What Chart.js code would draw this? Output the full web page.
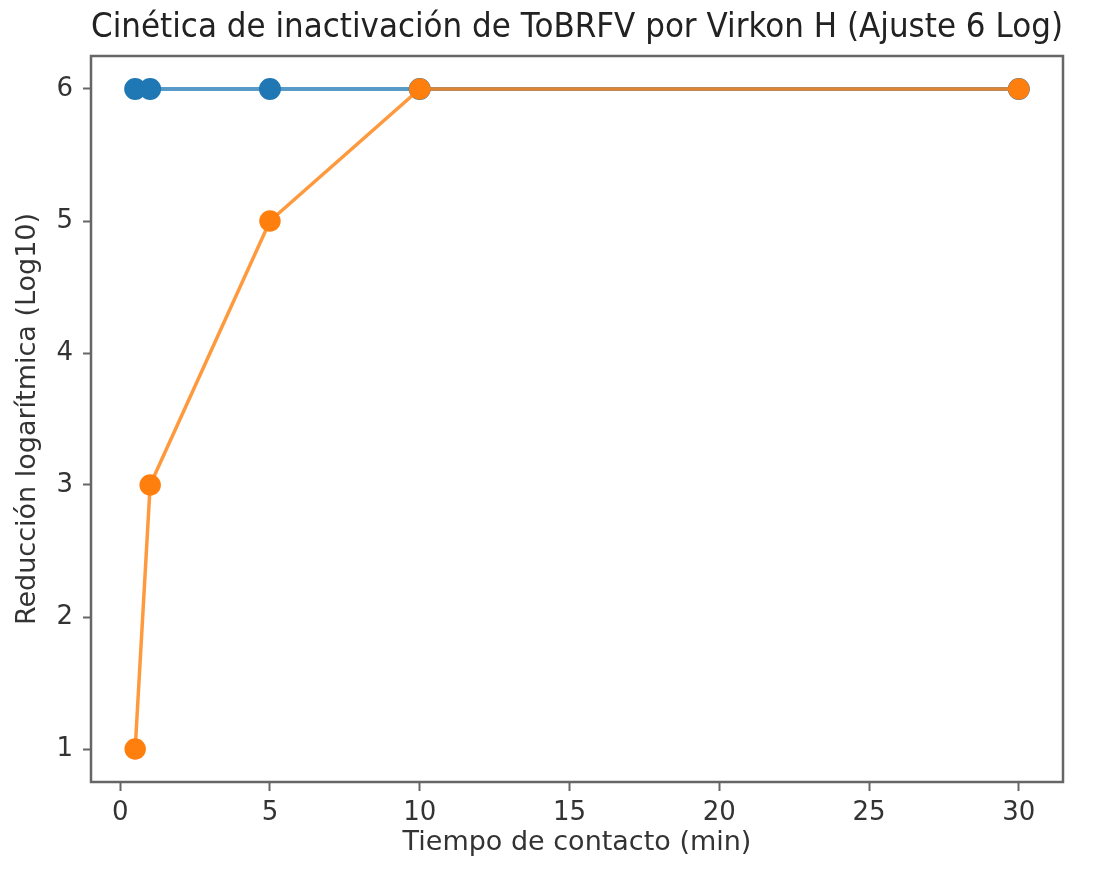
<!DOCTYPE html>
<html>
<head>
<meta charset="utf-8">
<script src="https://cdn.jsdelivr.net/npm/chart.js@4"></script>
<style>
    body { margin: 0; background: #fff; }
</style>
</head>
<body>
<canvas id="myChart" width="1093" height="871"></canvas>
<script>
// datos
const tiempos = [0.5, 1, 5, 10, 30];
const serieAzul = [6, 6, 6, 6, 6];
const serieNaranja = [1, 3, 5, 6, 6];
const xTicks = [0, 5, 10, 15, 20, 25, 30];
const yTicks = [1, 2, 3, 4, 5, 6];

const toPoints = (ys) => tiempos.map((t, i) => ({ x: t, y: ys[i] }));

// marco alrededor del area del grafico
const frame = {
    id: 'frame',
    afterDatasetsDraw(chart) {
        const a = chart.chartArea;
        const c = chart.ctx;
        c.save();
        c.strokeStyle = '#666';
        c.lineWidth = 2.5;
        c.strokeRect(a.left, a.top, a.right - a.left, a.bottom - a.top);
        c.restore();
    }
};

const font = 'DejaVu Sans';

const ctx = document.getElementById('myChart').getContext('2d');
const myChart = new Chart(ctx, {
    type: 'scatter',
    data: {
        datasets: [{
                label: 'Serie 1',
                data: toPoints(serieAzul),
                showLine: true,
                borderColor: 'rgba(31, 119, 180, 0.75)',
                backgroundColor: '#1f77b4',
                pointBorderColor: '#1f77b4',
                borderWidth: 4,
                pointRadius: 9,
                pointHoverRadius: 9,
                order: 2
            },
            {
                label: 'Serie 2',
                data: toPoints(serieNaranja),
                showLine: true,
                borderColor: 'rgba(255, 127, 14, 0.8)',
                backgroundColor: '#ff7f0e',
                pointBorderColor: '#ff7f0e',
                borderWidth: 3.5,
                pointRadius: 9,
                pointHoverRadius: 9,
                order: 1
            }
        ]
    },
    options: {
        responsive: false,
        animation: false,
        layout: { padding: { left: 0, right: 30, top: 0, bottom: 0 } },
        plugins: {
            legend: { display: false },
            tooltip: { enabled: false },
            title: {
                display: true,
                fullSize: false,
                text: 'Cinética de inactivación de ToBRFV por Virkon H (Ajuste 6 Log)',
                color: '#222',
                font: { family: font, size: 33, weight: 'normal', lineHeight: 1.2 },
                padding: { top: 8.5, bottom: 7.9 }
            }
        },
        scales: {
            x: {
                type: 'linear',
                min: -0.975,
                max: 31.475,
                afterBuildTicks: (s) => { s.ticks = xTicks.map(v => ({ value: v })); },
                afterFit: (s) => { s.height = 89; },
                grid: { display: true, drawOnChartArea: false, drawTicks: true, tickLength: 9, tickColor: '#666', tickWidth: 2 },
                border: { display: false },
                ticks: { color: '#333', padding: 7, maxRotation: 0, font: { family: font, size: 26 } },
                title: {
                    display: true,
                    text: 'Tiempo de contacto (min)',
                    color: '#333',
                    font: { family: font, size: 27, lineHeight: 1.2 },
                    padding: { top: 0, bottom: 12 }
                }
            },
            y: {
                type: 'linear',
                min: 0.75,
                max: 6.25,
                afterBuildTicks: (s) => { s.ticks = yTicks.map(v => ({ value: v })); },
                afterFit: (s) => { s.width = 91; },
                grid: { display: true, drawOnChartArea: false, drawTicks: true, tickLength: 8, tickColor: '#666', tickWidth: 2 },
                border: { display: false },
                ticks: { color: '#333', padding: 10, font: { family: font, size: 26 } },
                title: {
                    display: true,
                    text: 'Reducción logarítmica (Log10)',
                    color: '#333',
                    font: { family: font, size: 27, lineHeight: 1.2 },
                    padding: { top: 12, bottom: 0 }
                }
            }
        }
    },
    plugins: [frame]
});
</script>
</body>
</html>
